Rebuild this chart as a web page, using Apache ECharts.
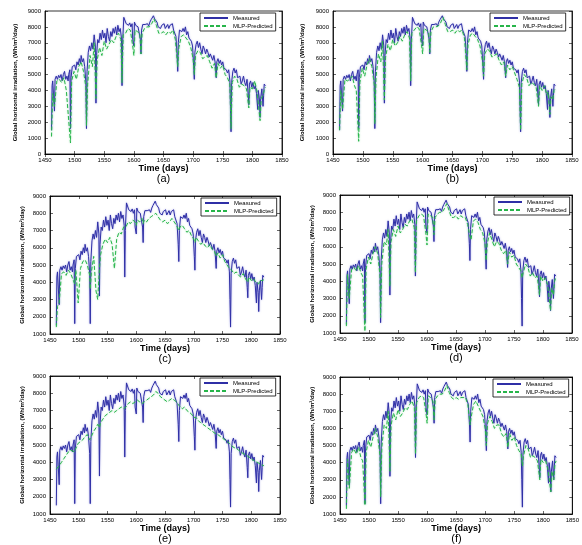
<!DOCTYPE html>
<html>
<head>
<meta charset="utf-8">
<script src="https://cdn.jsdelivr.net/npm/echarts@6/dist/echarts.min.js"></script>
<style>
  html, body { margin: 0; padding: 0; background: #fff; }
  #chart { width: 582px; height: 545px; }
</style>
</head>
<body>
<div id="chart"></div>
<script>
// measured series (same in every panel)
var measDays = [
  1461,1462,1463,1464,1466,1467,1469,1471,1473,1475,
  1477,1479,1481,1483,1485,1487,1489,1490,1492,1493,
  1494,1496,1498,1500,1502,1504,1506,1508,1510,1511,
  1513,1515,1517,1519,1520,1521,1523,1525,1527,1529,
  1531,1533,1535,1536,1537,1539,1541,1543,1545,1547,
  1549,1551,1553,1555,1557,1559,1561,1563,1565,1567,
  1569,1571,1573,1575,1577,1579,1580,1581,1583,1585,
  1587,1589,1591,1593,1595,1597,1598,1600,1601,1603,
  1605,1607,1609,1611,1612,1613,1615,1617,1619,1621,
  1623,1625,1627,1629,1631,1633,1634,1635,1637,1639,
  1641,1643,1645,1647,1649,1651,1653,1655,1657,1659,
  1661,1663,1665,1667,1669,1671,1673,1674,1675,1677,
  1679,1681,1683,1685,1687,1689,1691,1693,1695,1697,
  1699,1701,1702,1703,1705,1707,1709,1711,1713,1715,
  1717,1719,1721,1723,1725,1727,1729,1731,1733,1735,
  1737,1739,1740,1742,1744,1746,1748,1750,1752,1754,
  1756,1758,1760,1762,1763,1764,1765,1767,1769,1771,
  1773,1775,1777,1779,1781,1783,1785,1787,1789,1791,
  1793,1794,1795,1797,1799,1801,1803,1805,1807,1809,
  1810,1812,1813,1814,1816,1818,1819,1820,1822
];
var measVals = [
  1500,4300,4600,4500,2700,4700,4900,4700,4950,4800,
  5000,4600,5000,5200,4700,4900,4600,5000,5300,1600,
  4800,5500,5400,5600,5300,5800,5600,6000,5700,6200,
  5800,6000,5500,4500,1600,5200,6400,6800,6500,7000,
  6600,7500,6800,3200,6200,7200,7000,7600,7200,7800,
  7300,7600,7000,7900,7400,7100,7700,7400,7900,7600,
  8000,7500,8100,7700,7900,7300,4300,7000,8600,8500,
  8200,8300,8100,8250,8000,8200,7200,6800,8300,8100,
  8200,8000,8100,7200,6300,7800,8150,8050,8150,8100,
  8200,8050,8300,8450,8500,8700,8800,8500,8400,8300,
  8000,8100,7900,8100,8000,8200,7900,8000,8150,7900,
  8100,8000,8200,7800,7900,7400,6200,5200,7000,7800,
  7900,7700,7900,7700,8000,7500,7700,7300,7400,7100,
  6800,5500,4700,6400,6900,7100,6700,7000,6600,6300,
  6800,6600,6300,6600,6400,6100,6300,6200,5900,6200,
  5800,4800,5800,6000,5700,5900,5600,5800,5400,5500,
  5300,5100,5300,4600,3000,1400,4500,5200,5400,5100,
  5300,4800,4700,4900,4400,4600,4900,4500,4300,4700,
  3700,3100,4400,4600,4200,4500,4100,4300,3800,2800,
  4000,3400,2300,3500,4100,3000,3700,4400,4300
];

// MLP predictions, one array per panel, sampled on predDays
var predDays = [
  1461,1463,1466,1470,1474,1478,1482,1486,1489,1493,
  1495,1499,1503,1507,1511,1515,1519,1520,1522,1526,
  1530,1533,1536,1538,1542,1546,1550,1554,1558,1562,
  1566,1570,1574,1578,1580,1582,1586,1590,1594,1598,
  1600,1602,1606,1610,1612,1614,1618,1622,1626,1630,
  1634,1638,1642,1646,1650,1654,1658,1662,1666,1670,
  1674,1676,1680,1684,1688,1692,1696,1700,1702,1704,
  1708,1712,1716,1720,1724,1728,1732,1736,1739,1742,
  1746,1750,1754,1758,1762,1764,1766,1770,1774,1778,
  1782,1786,1790,1794,1796,1800,1804,1808,1810,1813,
  1815,1818,1820,1822
];
var predA = [
  1100,3800,3000,4600,4700,4500,4800,4000,3900,700,
  4600,5200,4700,5500,5800,5200,4200,1800,4400,6200,
  5500,7000,3500,5900,6700,6200,7100,6600,6900,7200,
  7000,7400,7600,7200,4500,7500,7600,7900,7800,6800,
  6200,7800,7700,7600,6300,7600,7900,8000,8000,8200,
  8500,8100,7600,7600,7700,7500,7700,7600,7800,7200,
  5500,6700,7400,7500,7300,7100,6700,6000,5000,6200,
  6500,6400,6000,6100,6200,5800,5400,5700,4800,5700,
  5400,5600,5000,4800,4400,1600,4500,4900,4700,4200,
  4400,4300,4100,2900,4200,4100,4600,3900,3800,2100,
  3500,3700,4000,4200
];
var predB = [
  1500,4000,2800,4700,4600,4700,4900,4300,4000,800,
  4500,5400,4900,5600,6000,5500,4400,1900,4800,6300,
  5800,7100,3400,6100,6900,6500,7200,6800,7000,7400,
  7100,7500,7700,7300,4600,7600,7800,8000,7900,6900,
  6300,7900,7800,7700,6400,7700,8000,8000,8050,8250,
  8600,8150,7700,7700,7800,7600,7800,7700,7800,7300,
  5300,6900,7500,7600,7400,7200,6800,5900,4900,6300,
  6600,6500,6100,6200,6300,5900,5600,5800,4900,5600,
  5300,5500,5100,4700,4200,1500,4400,5000,4800,4300,
  4500,4400,4200,3000,4300,4000,4300,3700,3900,2500,
  3600,3400,4000,4100
];
var predC = [
  1400,2600,2800,4500,4600,4400,4700,4500,4600,3900,
  4700,2800,4800,5200,5300,5000,4400,3600,4600,5500,
  3500,3000,4800,5600,6200,6500,6300,6600,6200,4800,
  6500,6900,6800,7200,7300,7200,7500,7400,7600,7500,
  7300,7600,7500,7700,7400,7600,7500,7700,7800,7900,
  8000,7800,7600,7500,7600,7400,7500,7700,7500,7300,
  7000,7200,7300,7100,6900,7000,6700,6500,6300,6600,
  6400,6200,6300,6100,6000,6200,5900,5800,5500,5700,
  5400,5600,5200,5000,4800,4900,4700,4500,4600,4400,
  4300,4500,4200,4000,4300,4100,4200,4000,4100,3900,
  4100,4000,4100,4150
];
var predD = [
  1400,4400,3000,4700,4800,4600,4900,4500,4300,1100,
  4700,5400,5000,5600,6000,5600,4300,1900,5000,6300,
  6100,7000,3700,6300,7000,6600,7200,6800,7000,7300,
  7200,7500,7600,7100,4500,7500,7800,7900,7800,6800,
  6100,7900,7800,7700,6700,7700,7900,8000,8000,8200,
  8500,8100,7700,7700,7800,7600,7800,7700,7700,7300,
  6600,6400,7500,7600,7400,7000,6800,6200,5200,6200,
  6800,6400,6000,6300,6200,5800,5600,5800,5000,5700,
  5400,5500,5000,4800,4600,4200,4500,5000,4800,4300,
  4500,4200,4300,3200,4300,4000,4200,3800,3900,2300,
  3600,3200,4000,4200
];
var predE = [
  3600,3700,3800,4000,4200,4400,4600,4700,4800,4600,
  4800,5100,5200,5300,5500,5600,5300,5200,5500,5800,
  6000,6200,6000,6300,6500,6700,6800,6900,7000,6900,
  7000,7100,7200,7100,7000,7200,7400,7500,7400,7500,
  7400,7600,7500,7400,7300,7500,7600,7700,7800,7900,
  8100,8000,7800,7700,7600,7500,7600,7700,7600,7500,
  7300,7200,7100,7200,7000,6900,6800,6600,6500,6600,
  6400,6300,6200,6100,6000,5900,5800,5700,5600,5600,
  5500,5400,5300,5200,5100,5000,4950,4850,4800,4700,
  4600,4500,4450,4350,4300,4200,4100,4050,4000,3950,
  3900,3850,3850,3800
];
var predF = [
  1300,4200,2500,4600,4800,4500,4900,4300,4100,1500,
  4600,5300,4900,5500,6000,5500,4400,2000,4900,6200,
  6000,7000,3500,6200,6900,6500,7100,6700,6900,7200,
  7100,7400,7600,7200,4500,7500,7800,7900,7800,6900,
  6300,7900,7800,7600,6500,7700,7900,8000,8000,8200,
  8500,8100,7800,7700,7800,7700,7800,7800,7800,7400,
  6200,6700,7400,7600,7300,7000,6700,6000,5000,6300,
  6700,6400,6000,6200,6200,5700,5500,5700,4900,5700,
  5300,5500,5000,4700,4500,3800,4400,5000,4800,4300,
  4400,4300,4100,3000,4200,4000,4100,3600,3700,2300,
  3500,3000,3900,4100
];

var panelLabels = ['(a)', '(b)', '(c)', '(d)', '(e)', '(f)'];
var yMins = [0, 0, 1000, 1000, 1000, 1000];
var preds = [predA, predB, predC, predD, predE, predF];

// layout of the six plot boxes and their legends
var boxes = [
  { left: 45, top: 11, width: 237, height: 143, lx: 200, ly: 13, yGap: 27 },
  { left: 333, top: 11, width: 239, height: 143, lx: 490, ly: 13, yGap: 28 },
  { left: 50, top: 196, width: 230, height: 138, lx: 201, ly: 198, yGap: 25 },
  { left: 340, top: 195, width: 232, height: 138, lx: 494, ly: 197, yGap: 25 },
  { left: 50, top: 376, width: 230, height: 138, lx: 200, ly: 378, yGap: 25 },
  { left: 340, top: 377, width: 233, height: 137, lx: 493, ly: 379, yGap: 25 }
];

var FONT = 'Liberation Sans, Arial, sans-serif';
var BLUE = '#2f2fa6';
var GREEN = '#27b54a';

function zip(xs, ys) {
  return xs.map(function (x, i) { return [x, ys[i]]; });
}
function plain(v) { return String(v); }

var grids = [], xAxes = [], yAxes = [], series = [], legends = [], titles = [];

boxes.forEach(function (b, i) {
  grids.push({ left: b.left, top: b.top, width: b.width, height: b.height,
    show: true, borderColor: '#000', borderWidth: 0.8, backgroundColor: '#fff' });

  var tick = { show: true, inside: true, length: 3, lineStyle: { color: '#000', width: 0.6 } };
  var line = { show: true, lineStyle: { color: '#000', width: 0.8 } };
  var label = { fontSize: 6, color: '#000', fontFamily: FONT, formatter: plain };

  xAxes.push({ gridIndex: i, type: 'value', min: 1450, max: 1850, interval: 50,
    axisLine: line, axisTick: tick, splitLine: { show: false },
    axisLabel: Object.assign({ margin: 3 }, label),
    name: 'Time (days)', nameLocation: 'middle', nameGap: 9,
    nameTextStyle: { fontSize: 9, fontWeight: 'bold', color: '#000', fontFamily: FONT } });
  xAxes.push({ gridIndex: i, type: 'value', position: 'top', min: 1450, max: 1850, interval: 50,
    axisLine: line, axisTick: tick, splitLine: { show: false }, axisLabel: { show: false } });

  yAxes.push({ gridIndex: i, type: 'value', min: yMins[i], max: 9000, interval: 1000,
    axisLine: line, axisTick: tick, splitLine: { show: false },
    axisLabel: Object.assign({ margin: 4 }, label),
    name: 'Global horizontal irradiation, (Wh/m\u00b2/day)', nameLocation: 'middle', nameGap: b.yGap,
    nameTextStyle: { fontSize: 6, fontWeight: 'bold', color: '#000', fontFamily: FONT } });
  yAxes.push({ gridIndex: i, type: 'value', position: 'right', min: yMins[i], max: 9000, interval: 1000,
    axisLine: line, axisTick: tick, splitLine: { show: false }, axisLabel: { show: false } });

  series.push({ name: 'Measured', type: 'line', xAxisIndex: i * 2, yAxisIndex: i * 2,
    data: zip(measDays, measVals), symbol: 'none', animation: false,
    lineStyle: { color: BLUE, width: 1, shadowColor: 'rgba(90,90,210,0.55)', shadowBlur: 2 },
    itemStyle: { color: BLUE } });
  series.push({ name: 'MLP-Predicted', type: 'line', xAxisIndex: i * 2, yAxisIndex: i * 2,
    data: zip(predDays, preds[i]), symbol: 'none', animation: false,
    lineStyle: { color: GREEN, width: 1, type: [4, 2], shadowColor: 'rgba(60,200,100,0.45)', shadowBlur: 2 },
    itemStyle: { color: GREEN } });

  legends.push({ left: b.lx, top: b.ly, orient: 'vertical', data: ['Measured', 'MLP-Predicted'],
    itemWidth: 24, itemHeight: 6, itemGap: 2, padding: [2, 3, 2, 3],
    itemStyle: { opacity: 0 },
    borderColor: '#000', borderWidth: 0.8, backgroundColor: '#fff', selectedMode: false,
    textStyle: { fontSize: 6, color: '#000', fontFamily: FONT } });

  titles.push({ text: panelLabels[i], left: b.left + b.width / 2, top: b.top + b.height + 19,
    textAlign: 'center', padding: 0,
    textStyle: { fontSize: 11, fontWeight: 'normal', color: '#000', fontFamily: FONT } });
});

var chart = echarts.init(document.getElementById('chart'), null, { renderer: 'canvas' });
chart.setOption({
  backgroundColor: '#fff',
  animation: false,
  title: titles,
  legend: legends,
  grid: grids,
  xAxis: xAxes,
  yAxis: yAxes,
  series: series
});
</script>
</body>
</html>
